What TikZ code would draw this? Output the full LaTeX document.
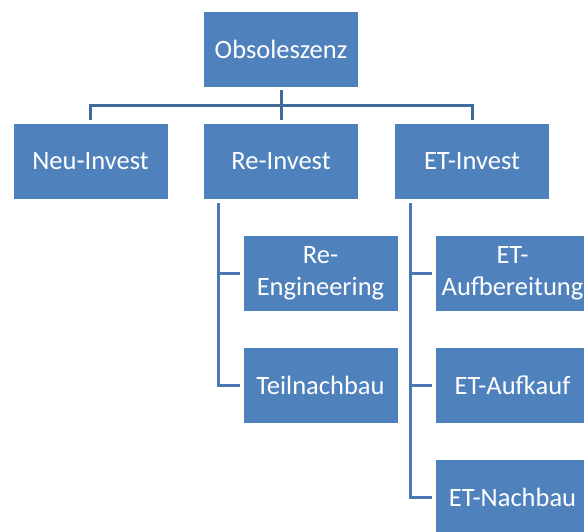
\documentclass[tikz,border=0pt]{standalone}
\usepackage{fontspec}
\setmainfont{Carlito}
\definecolor{boxblue}{HTML}{4F81BD}
\definecolor{topline}{HTML}{3F6B9D}
\definecolor{subline}{HTML}{4978B2}
\begin{document}
\begin{tikzpicture}[x=1pt,y=1pt,
  box/.style={rectangle, fill=boxblue, draw=white, line width=0.8pt,
    minimum width=155pt, minimum height=76pt, inner sep=2pt,
    text=white, align=center, font=\fontsize{26.5}{31.5}\selectfont},
  conn/.style={draw=topline, line width=3pt},
  subconn/.style={draw=subline, line width=3pt}]
\clip (0,0) rectangle (584,532);
\fill[white] (0,0) rectangle (584,532);
\node[box] (obs)  at (281,483)   {Obsoleszenz};
\node[box] (neu)  at (90.5,371)  {Neu-Invest};
\node[box] (re)   at (281,371)   {Re-Invest};
\node[box] (et)   at (472,371)   {ET-Invest};
\node[box] (reeng) at (320.5,258.5) {Re-\\Engineering};
\node[box] (teil)  at (320.5,146.5) {Teilnachbau};
\node[box] (etauf) at (512.5,258.5) {ET-\\Aufbereitung};
\node[box] (etkauf) at (512.5,146.5) {ET-Aufkauf};
\node[box] (etnach) at (512.5,34.5)  {ET-Nachbau};
% top connectors
\coordinate (bus) at (281,426);
\draw[conn] ([yshift=-3pt]obs.south) -- (bus);
\draw[conn] ([yshift=3pt]neu.north) |- (bus) -| ([yshift=3pt]et.north);
\draw[conn] (bus) -- ([yshift=3pt]re.north);
% Re-Invest branch
\coordinate (rt) at ([xshift=-63pt,yshift=-4pt]re.south);
\draw[subconn] (rt) |- ([xshift=-3pt]teil.west);
\draw[subconn] ([xshift=-3pt]reeng.west) -- (reeng.west -| rt);
% ET-Invest branch
\coordinate (et1) at ([xshift=-62pt,yshift=-4pt]et.south);
\draw[subconn] (et1) |- ([xshift=-3pt]etnach.west);
\draw[subconn] ([xshift=-3pt]etauf.west) -- (etauf.west -| et1);
\draw[subconn] ([xshift=-3pt]etkauf.west) -- (etkauf.west -| et1);
\end{tikzpicture}
\end{document}
